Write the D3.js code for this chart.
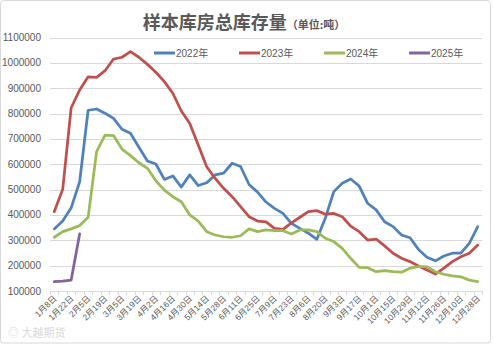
<!DOCTYPE html>
<html><head><meta charset="utf-8">
<script src="https://cdn.jsdelivr.net/npm/d3@7"></script>
<style>html,body{margin:0;padding:0;background:#fff;}svg{display:block;}</style>
</head><body>
<svg id="c" width="494" height="347"></svg>
<script>
const categories = ["1月8日","1月15日","1月22日","1月29日","2月5日","2月12日","2月19日","2月26日","3月5日","3月12日","3月19日","3月26日","4月2日","4月9日","4月16日","4月23日","4月30日","5月7日","5月14日","5月21日","5月28日","6月4日","6月11日","6月18日","6月25日","7月2日","7月9日","7月16日","7月23日","7月30日","8月6日","8月13日","8月20日","8月27日","9月3日","9月10日","9月17日","9月24日","10月1日","10月8日","10月15日","10月22日","10月29日","11月5日","11月12日","11月19日","11月26日","12月3日","12月10日","12月17日","12月28日"];
const seriesNames = ["2022年","2023年","2024年","2025年"];
const colors = ["#4F81BD","#C0504D","#9BBB59","#8064A2"];
const v2022 = [345000,376000,428000,531000,813000,818000,801000,781000,738000,722000,667000,613000,601000,540000,554000,510000,558000,516000,527000,558000,565000,604000,591000,520000,490000,451000,426000,406000,367000,347000,328000,304000,387000,492000,525000,542000,514000,446000,420000,373000,354000,321000,310000,264000,233000,219000,238000,249000,249000,288000,354000];
const v2023 = [413000,501000,823000,893000,945000,943000,969000,1015000,1022000,1044000,1022000,994000,963000,926000,880000,810000,761000,676000,590000,544000,505000,472000,433000,393000,376000,373000,347000,343000,369000,391000,413000,417000,403000,406000,393000,356000,334000,301000,305000,278000,249000,229000,216000,199000,183000,167000,190000,216000,235000,249000,281000];
const v2024 = [312000,334000,345000,358000,391000,650000,715000,713000,660000,634000,606000,584000,535000,498000,472000,452000,400000,376000,334000,321000,314000,312000,318000,345000,334000,341000,338000,338000,325000,341000,341000,334000,308000,295000,268000,229000,193000,192000,176000,180000,176000,174000,190000,196000,196000,176000,166000,160000,156000,143000,137000];
const v2025 = [137000,139000,143000,325000];
const yTicks = [100000,200000,300000,400000,500000,600000,700000,800000,900000,1000000,1100000];

const svg = d3.select("#c");
const grey = "#595959";
const font = "'Liberation Sans', Arial, 'Noto Sans CJK SC', sans-serif";

svg.append("rect").attr("x",0.5).attr("y",0.5).attr("width",490).attr("height",342.5)
  .attr("rx",3).attr("fill","#fff").attr("stroke","#d9d9d9");

const x = d3.scaleBand().domain(categories).range([50,482]).paddingInner(0).paddingOuter(0);
const y = d3.scaleLinear().domain([100000,1100000]).range([291,37.5]);
const cx = c => x(c) + x.bandwidth()/2;

// gridlines
svg.append("g").selectAll("line").data(yTicks).join("line")
  .attr("x1",50).attr("x2",482).attr("y1",d=>Math.round(y(d))+0.5).attr("y2",d=>Math.round(y(d))+0.5)
  .attr("stroke","#d9d9d9").attr("stroke-width",1);

// y axis labels
svg.append("g").selectAll("text").data(yTicks).join("text")
  .attr("x",41).attr("y",d=>y(d)+3.5).attr("text-anchor","end")
  .attr("font-family",font).attr("font-size",10).attr("fill",grey).text(d=>d);

// x axis ticks
const bounds = categories.map(c=>x(c)).concat([482]);
svg.append("g").selectAll("line").data(bounds).join("line")
  .attr("x1",d=>Math.round(d)+0.5).attr("x2",d=>Math.round(d)+0.5)
  .attr("y1",291).attr("y2",295).attr("stroke","#d9d9d9");

// x labels
svg.append("g").selectAll("text").data(categories.filter((c,i)=>i%2===0)).join("text")
  .attr("transform",c=>`translate(${cx(c)+3},${299}) rotate(-45)`)
  .attr("text-anchor","end").attr("font-family",font).attr("font-size",8.5).attr("fill",grey).text(c=>c);

// lines
const allSeries = [v2022,v2023,v2024,v2025];
const line = d3.line().x((d,i)=>cx(categories[i])).y(d=>y(d));
allSeries.forEach((s,k)=>{
  svg.append("path").datum(s).attr("d",line).attr("fill","none")
    .attr("stroke",colors[k]).attr("stroke-width",2.75).attr("stroke-linejoin","round").attr("stroke-linecap","round");
});

// title
const t = svg.append("text").attr("x",244).attr("y",29).attr("text-anchor","middle")
  .attr("font-family","'Noto Sans CJK SC', sans-serif").attr("font-weight","bold").attr("fill",grey);
t.append("tspan").attr("font-size",18).text("样本库房总库存量");
t.append("tspan").attr("font-size",11).text("（单位:吨）");

// legend
const lg = svg.append("g");
seriesNames.forEach((n,k)=>{
  const lx = 154 + k*85;
  lg.append("line").attr("x1",lx).attr("x2",lx+21).attr("y1",53).attr("y2",53)
    .attr("stroke",colors[k]).attr("stroke-width",3);
  lg.append("text").attr("x",lx+22).attr("y",56.5).attr("font-family",font).attr("font-size",10)
    .attr("fill",grey).text(n);
});

// watermark
svg.append("text").attr("x",8).attr("y",337).attr("font-family","'Noto Sans CJK SC', sans-serif")
  .attr("font-size",11).attr("fill","#d8d8d8").text("◎ 大越期货");
</script>
</body></html>
